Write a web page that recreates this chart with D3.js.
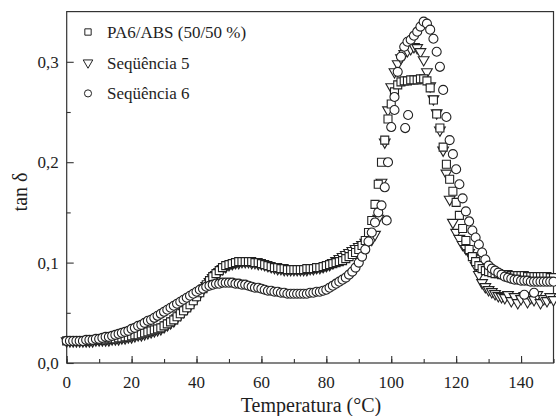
<!DOCTYPE html>
<html>
<head>
<meta charset="utf-8">
<script src="https://cdn.jsdelivr.net/npm/d3@7"></script>
<style>
body { margin: 0; background: #fff; }
text { font-family: "Liberation Serif", "Times New Roman", serif; fill: #1e1e1e; }
</style>
</head>
<body>
<svg id="chart"></svg>
<script>
const temps = [0,1,2,3,4,5,6,7,8,9,10,11,12,13,14,15,16,17,18,19,20,21,22,23,24,25,26,27,28,29,30,
  31,32,33,34,35,36,37,38,39,40,41,42,43,44,45,46,47,48,49,50,51,52,53,54,55,56,57,58,59,60,
  61,62,63,64,65,66,67,68,69,70,71,72,73,74,75,76,77,78,79,80,81,82,83,84,85,86,87,88,89,90,
  91,92,93,94,95,96,97,98,99,100,101,102,103,104,105,106,107,108,109,110,111,112,113,114,115,116,117,118,119,120,
  121,122,123,124,125,126,127,128,129,130,131,132,133,134,135,136,137,138,139,140,141,142,143,144,145,146,147,148,149,150];

const pa6abs = [.022,.022,.022,.022,.022,.022,.022,.022,.023,.023,.023,
  .023,.023,.024,.024,.024,.025,.025,.026,.026,.027,
  .028,.028,.029,.030,.031,.032,.033,.034,.035,.037,
  .039,.041,.043,.046,.049,.052,.055,.058,.062,.066,
  .070,.074,.078,.082,.086,.089,.092,.095,.097,.098,
  .099,.100,.101,.101,.101,.101,.101,.100,.100,.099,
  .098,.097,.096,.095,.095,.094,.094,.093,.093,.093,
  .093,.093,.093,.094,.094,.094,.095,.095,.096,.097,
  .098,.099,.100,.101,.102,.104,.106,.108,.110,.113,
  .117,.122,.130,.142,.158,.178,.200,.222,.243,.258,
  .270,.277,.280,.281,.281,.282,.282,.282,.283,.283,
  .281,.274,.262,.248,.234,.215,.198,.183,.171,.160,
  .147,.134,.122,.113,.106,.101,.097,.094,.092,.091,
  .090,.089,.089,.088,.088,.088,.087,.087,.087,.087,
  .087,.086,.086,.086,.086,.086,.086,.086,.085,.085];

const seq5 = [.022,.022,.022,.022,.022,.022,.022,.022,.022,.023,.023,
  .023,.023,.023,.024,.024,.024,.025,.025,.026,.026,
  .027,.028,.028,.029,.030,.031,.032,.033,.034,.036,
  .038,.040,.042,.045,.048,.051,.054,.057,.061,.065,
  .069,.073,.077,.081,.085,.088,.091,.094,.096,.098,
  .099,.100,.100,.101,.101,.101,.100,.100,.099,.099,
  .098,.097,.096,.095,.094,.094,.093,.093,.093,.093,
  .093,.093,.093,.093,.094,.094,.095,.095,.096,.097,
  .098,.100,.102,.104,.106,.108,.110,.112,.114,.116,
  .118,.120,.121,.123,.128,.144,.180,.220,.252,.275,
  .290,.298,.304,.308,.311,.313,.315,.314,.310,.302,
  .290,.276,.263,.249,.232,.212,.189,.163,.140,.130,
  .124,.118,.114,.110,.105,.097,.088,.080,.076,.073,
  .071,.069,.067,.066,.065,.068,.062,.066,.060,.064,
  .067,.061,.065,.063,.068,.060,.064,.062,.066,.063];

const seq6 = [.022,.022,.022,.022,.022,.022,.023,.023,.023,.024,.024,
  .025,.026,.026,.027,.028,.029,.030,.031,.032,.034,
  .035,.037,.038,.040,.042,.043,.045,.047,.049,.051,
  .053,.055,.057,.059,.061,.063,.065,.067,.069,.071,
  .073,.074,.076,.077,.078,.079,.079,.080,.080,.080,
  .080,.079,.079,.078,.078,.077,.076,.075,.075,.074,
  .073,.072,.072,.071,.071,.070,.070,.069,.069,.069,
  .069,.069,.069,.069,.070,.070,.071,.071,.072,.073,
  .075,.077,.079,.081,.083,.085,.088,.091,.095,.100,
  .106,.113,.121,.130,.140,.150,.157,.175,.200,.235,
  .265,.290,.305,.315,.320,.322,.326,.330,.335,.340,
  .338,.332,.323,.310,.295,.272,.245,.222,.208,.193,
  .178,.164,.151,.141,.132,.125,.118,.110,.103,.097,
  .094,.092,.090,.088,.086,.085,.084,.083,.083,.082,
  .082,.082,.081,.081,.081,.081,.081,.081,.081,.081];

// stray points of Sequencia 6
const seq6OutT = [98.6, 101, 104.3, 105.2, 141, 144];
const seq6OutV = [0.142, 0.252, 0.234, 0.247, 0.068, 0.070];

const xTicks = [0, 20, 40, 60, 80, 100, 120, 140];
const yTicks = [0, 0.1, 0.2, 0.3];
const labels = ["PA6/ABS (50/50 %)", "Seqüência 5", "Seqüência 6"];

const width = 556, height = 416;
const mLeft = 66.7, mRight = 553.5, mTop = 11.6, mBottom = 363;

const svg = d3.select("#chart").attr("width", width).attr("height", height);

const x = d3.scaleLinear().domain([0, 150]).range([mLeft, mRight]);
const y = d3.scaleLinear().domain([0, 0.35]).range([mBottom, mTop]);

const comma = v => d3.format(".1f")(v).replace(".", ",");

// frame
svg.append("rect")
  .attr("x", mLeft).attr("y", mTop)
  .attr("width", mRight - mLeft).attr("height", mBottom - mTop)
  .attr("fill", "none").attr("stroke", "#333").attr("stroke-width", 1.2);

// x axis, ticks inward
const xAxis = svg.append("g").attr("transform", "translate(0," + mBottom + ")");
xAxis.call(d3.axisTop(x).ticks(15).tickSize(4).tickFormat(""));
xAxis.call(g => g.append("g").call(d3.axisTop(x).tickValues(xTicks).tickSize(7).tickFormat("")));
xAxis.selectAll(".domain").remove();
xAxis.selectAll("line").attr("stroke", "#333").attr("stroke-width", 1.1);
svg.append("g").selectAll("text").data(xTicks).join("text")
  .attr("x", d => x(d)).attr("y", mBottom + 25)
  .attr("text-anchor", "middle").style("font-size", "17px")
  .text(d => d);

// y axis, ticks inward
const yAxis = svg.append("g").attr("transform", "translate(" + mLeft + ",0)");
yAxis.call(d3.axisRight(y).tickValues([0.05, 0.15, 0.25]).tickSize(4).tickFormat(""));
yAxis.call(g => g.append("g").call(d3.axisRight(y).tickValues(yTicks).tickSize(7).tickFormat("")));
yAxis.selectAll(".domain").remove();
yAxis.selectAll("line").attr("stroke", "#333").attr("stroke-width", 1.1);
svg.append("g").selectAll("text").data(yTicks).join("text")
  .attr("x", mLeft - 8).attr("y", d => y(d) + 6)
  .attr("text-anchor", "end").style("font-size", "17px")
  .text(d => comma(d));

// axis titles
svg.append("text")
  .attr("x", 311).attr("y", 412)
  .attr("text-anchor", "middle").style("font-size", "20px")
  .text("Temperatura (°C)");
svg.append("text")
  .attr("transform", "translate(27,192) rotate(-90)")
  .attr("text-anchor", "middle").style("font-size", "20px")
  .text("tan δ");

const shapes = [
  { sym: d3.symbol().type(d3.symbolSquare).size(64), rot: 0 },
  { sym: d3.symbol().type(d3.symbolTriangle).size(50), rot: 180 },
  { sym: d3.symbol().type(d3.symbolCircle).size(64), rot: 0 }
];

function drawSeries(xs, vs, shape) {
  svg.append("g").selectAll("path")
    .data(xs.map((t, i) => [t, vs[i]]))
    .join("path")
      .attr("d", shape.sym())
      .attr("transform", d => "translate(" + x(d[0]) + "," + y(d[1]) + ") rotate(" + shape.rot + ")")
      .attr("fill", "#fff")
      .attr("stroke", "#222")
      .attr("stroke-width", 1.1);
}

drawSeries(temps, seq5, shapes[1]);
drawSeries(temps, pa6abs, shapes[0]);
drawSeries(temps, seq6, shapes[2]);
drawSeries(seq6OutT, seq6OutV, shapes[2]);

// legend
const legend = svg.append("g");
labels.forEach((lab, i) => {
  const ly = 32 + i * 30.7;
  legend.append("path")
    .attr("d", shapes[i].sym.size(40)())
    .attr("transform", "translate(88," + ly + ") rotate(" + shapes[i].rot + ")")
    .attr("fill", "#fff").attr("stroke", "#222").attr("stroke-width", 1);
  legend.append("text")
    .attr("x", 107).attr("y", ly + 6)
    .style("font-size", "17px")
    .text(lab);
});
</script>
</body>
</html>
